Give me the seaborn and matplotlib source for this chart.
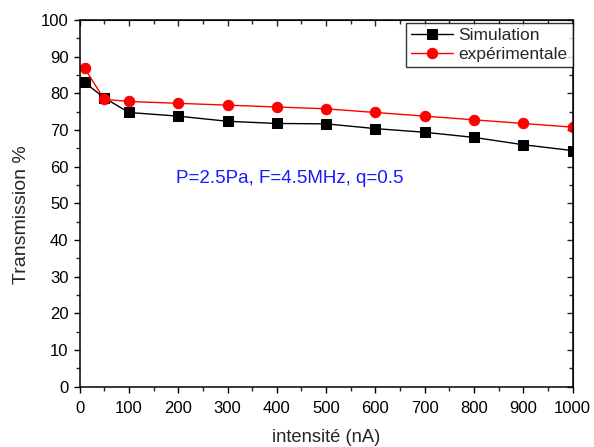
import numpy as np
import pandas as pd
import matplotlib
matplotlib.use('Agg')
import matplotlib.pyplot as plt
import seaborn as sns
from matplotlib.ticker import MultipleLocator

intensite = [10, 50, 100, 200, 300, 400, 500, 600, 700, 800, 900, 1000]
simulation = [83.0, 78.8, 74.8, 73.8, 72.4, 71.8, 71.7, 70.4, 69.4, 68.0, 66.0, 64.4]
experimentale = [86.9, 78.4, 77.8, 77.3, 76.8, 76.3, 75.8, 74.8, 73.8, 72.8, 71.8, 70.8]

sns.set_style("ticks")
plt.rcParams['font.family'] = ['Liberation Sans', 'DejaVu Sans']

df = pd.DataFrame({'intensite': intensite, 'Simulation': simulation,
                   'expérimentale': experimentale})

fig = plt.figure(figsize=(5.94, 4.47), dpi=100)
ax = fig.add_axes([0.134, 0.135, 0.830, 0.820])

sns.lineplot(data=df, x='intensite', y='Simulation', ax=ax, color='black',
             marker='s', markersize=6.5, markeredgecolor='black', linewidth=1,
             label='Simulation')
sns.lineplot(data=df, x='intensite', y='expérimentale', ax=ax, color='red',
             marker='o', markersize=7.5, markeredgecolor='red', linewidth=1,
             label='expérimentale')

ax.set_xlim(0, 1000)
ax.set_ylim(0, 100)
ax.xaxis.set_major_locator(MultipleLocator(100))
ax.xaxis.set_minor_locator(MultipleLocator(50))
ax.yaxis.set_major_locator(MultipleLocator(10))
ax.yaxis.set_minor_locator(MultipleLocator(5))
ax.tick_params(axis='both', which='major', direction='out', length=4.5, width=1,
               labelsize=12, colors='black')
ax.tick_params(axis='x', which='major', pad=6)
ax.tick_params(axis='both', which='minor', direction='out', length=3, width=1)
for s in ax.spines.values():
    s.set_visible(True)
    s.set_linewidth(1.1)
    s.set_color('black')

# inward ticks on the top and right edges
top = ax.secondary_xaxis('top')
top.xaxis.set_major_locator(MultipleLocator(100))
top.xaxis.set_minor_locator(MultipleLocator(50))
top.tick_params(which='major', direction='in', length=4.5, width=1, labeltop=False)
top.tick_params(which='minor', direction='in', length=3, width=1)
right = ax.secondary_yaxis('right')
right.yaxis.set_major_locator(MultipleLocator(10))
right.yaxis.set_minor_locator(MultipleLocator(5))
right.tick_params(which='major', direction='in', length=4.5, width=1, labelright=False)
right.tick_params(which='minor', direction='in', length=3, width=1)

ax.set_xlabel('intensité (nA)', fontsize=13.2, labelpad=9)
ax.set_ylabel('Transmission %', fontsize=14)
ax.yaxis.set_label_coords(-0.100, 0.468)

ax.text(196, 56.9, 'P=2.5Pa, F=4.5MHz, q=0.5', color='#1a1aff', fontsize=13.5,
        va='center', ha='left')

leg = ax.legend(loc='upper right', fontsize=12.5, frameon=True, fancybox=False,
                borderaxespad=0.0, handlelength=2.4, handletextpad=0.3,
                borderpad=0.3, labelspacing=0.2, bbox_to_anchor=(1.0, 0.992))
leg.get_frame().set_edgecolor('black')
leg.get_frame().set_linewidth(1)

fig.savefig('out.png', dpi=100)
